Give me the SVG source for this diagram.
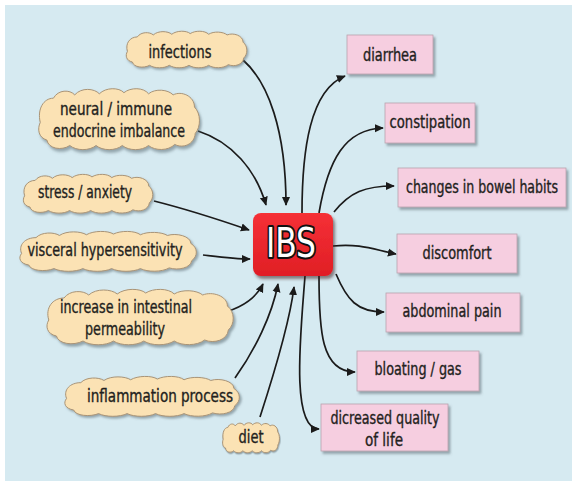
<svg xmlns="http://www.w3.org/2000/svg" xmlns:xlink="http://www.w3.org/1999/xlink" width="572" height="483" viewBox="0 0 572 483">
<style>
.t{font-family:"Liberation Sans Narrow","DejaVu Sans Condensed","Liberation Sans",Arial,sans-serif;font-size:17px;fill:#231f20;stroke:#231f20;stroke-width:0.35;text-anchor:middle}
.cloud{fill:#fbe2b4;stroke:#a99477;stroke-width:1}
.box{fill:#f6cee0;stroke:#b9a3ae;stroke-width:0.8}
.c{fill:none;stroke:#1b1b1b;stroke-width:1.7}
.a{marker-end:url(#ah)}
</style>
<defs>
<marker id="ah" viewBox="0 0 10 10" refX="9" refY="5" markerWidth="9" markerHeight="9" markerUnits="userSpaceOnUse" orient="auto">
<path d="M0,0.5 L10,5 L0,9.5 Z" fill="#1b1b1b"/>
</marker>
<filter id="sh" x="-10%" y="-10%" width="130%" height="140%">
<feDropShadow dx="2" dy="2.5" stdDeviation="1.3" flood-color="#5a6a70" flood-opacity="0.55"/>
</filter>
<filter id="sh2" x="-10%" y="-10%" width="130%" height="140%">
<feDropShadow dx="2" dy="3" stdDeviation="1.5" flood-color="#3a2020" flood-opacity="0.55"/>
</filter>
<linearGradient id="red" x1="0" y1="0" x2="0" y2="1">
<stop offset="0" stop-color="#f53036"/>
<stop offset="1" stop-color="#e01e25"/>
</linearGradient>
<path id="cl" d="M4,34 C0,22 8,12 20,12 C26,4 40,4 46,9 C54,2 70,3 76,8 C84,2 100,2 106,7 C114,2 130,2 136,8 C144,3 160,4 166,9 C176,5 192,10 192,20 C200,26 200,38 193,44 C192,54 178,58 168,54 C160,60 144,60 136,55 C128,60 112,60 104,55 C96,60 80,60 72,55 C64,60 48,60 40,55 C30,60 14,58 12,50 C2,48 0,40 4,34 Z" vector-effect="non-scaling-stroke"/>
</defs>
<rect x="0" y="0" width="572" height="483" fill="#ffffff"/>
<rect x="5" y="5" width="567" height="476" fill="#d6eaf1"/>

<g id="connectors">
<path class="c a" d="M243,60 C268,82 286,130 286,205"/>
<path class="c a" d="M198,131 C232,142 256,170 266,205"/>
<path class="c a" d="M154,201 C190,210 220,220 249,230"/>
<path class="c a" d="M203,255 C220,257 235,259 250,259"/>
<path class="c a" d="M213,315 C240,310 255,300 263,284"/>
<path class="c a" d="M235,378 C255,350 272,315 278,284"/>
<path class="c a" d="M260,417 C272,380 290,320 294,287"/>
<path class="c a" d="M302,213 C302,150 310,90 345,76"/>
<path class="c a" d="M319,213 C328,160 345,129 383,128"/>
<path class="c a" d="M334,212 C350,192 365,186 394,186"/>
<path class="c a" d="M333,246 C360,243 375,250 396,254"/>
<path class="c a" d="M336,274 C347,300 357,312 384,312"/>
<path class="c a" d="M319,276 C319,330 321,372 355,372"/>
<path class="c a" d="M305,276 C301,330 290,429 319,429"/>
</g>

<g id="ibs">
<rect x="253" y="213" width="80" height="63" rx="8" fill="url(#red)" filter="url(#sh2)"/>
<text x="291" y="257" font-family="&quot;Liberation Sans Narrow&quot;,&quot;DejaVu Sans Condensed&quot;,&quot;Liberation Sans&quot;,sans-serif" font-size="41" text-anchor="middle" fill="#ffffff" stroke="#111111" stroke-width="4" paint-order="stroke" stroke-linejoin="round" textLength="50" lengthAdjust="spacingAndGlyphs">IBS</text>
</g>

<g id="infections">
<use xlink:href="#cl" class="cloud" filter="url(#sh)" transform="translate(125,29) scale(0.615,0.66)"/>
<text class="t" x="180" y="58" textLength="63" lengthAdjust="spacingAndGlyphs">infections</text>
</g>
<g id="neural">
<use xlink:href="#cl" class="cloud" filter="url(#sh)" transform="translate(37,85) scale(0.82,1.1)"/>
<text class="t" x="116" y="115" textLength="112" lengthAdjust="spacingAndGlyphs">neural / immune</text>
<text class="t" x="119" y="137" textLength="132" lengthAdjust="spacingAndGlyphs">endocrine imbalance</text>
</g>
<g id="stress">
<use xlink:href="#cl" class="cloud" filter="url(#sh)" transform="translate(22,172) scale(0.66,0.7)"/>
<text class="t" x="85" y="198" textLength="94" lengthAdjust="spacingAndGlyphs">stress / anxiety</text>
</g>
<g id="visceral">
<use xlink:href="#cl" class="cloud" filter="url(#sh)" transform="translate(18,229) scale(0.9,0.72)"/>
<text class="t" x="105" y="256" textLength="155" lengthAdjust="spacingAndGlyphs">visceral hypersensitivity</text>
</g>
<g id="permeability">
<use xlink:href="#cl" class="cloud" filter="url(#sh)" transform="translate(45,286) scale(0.95,1.0)"/>
<text class="t" x="126" y="313" textLength="132" lengthAdjust="spacingAndGlyphs">increase in intestinal</text>
<text class="t" x="125" y="335" textLength="80" lengthAdjust="spacingAndGlyphs">permeability</text>
</g>
<g id="inflammation">
<use xlink:href="#cl" class="cloud" filter="url(#sh)" transform="translate(63,374) scale(0.89,0.72)"/>
<text class="t" x="160" y="402" textLength="146" lengthAdjust="spacingAndGlyphs">inflammation process</text>
</g>
<g id="diet">
<use xlink:href="#cl" class="cloud" filter="url(#sh)" transform="translate(222,421) scale(0.29,0.54)"/>
<text class="t" x="251" y="443" textLength="25" lengthAdjust="spacingAndGlyphs">diet</text>
</g>

<g id="diarrhea">
<rect class="box" x="347" y="35" width="86" height="39" filter="url(#sh)"/>
<text class="t" x="390" y="61" textLength="54" lengthAdjust="spacingAndGlyphs">diarrhea</text>
</g>
<g id="constipation">
<rect class="box" x="385" y="103" width="90" height="40" filter="url(#sh)"/>
<text class="t" x="430" y="128" textLength="81" lengthAdjust="spacingAndGlyphs">constipation</text>
</g>
<g id="bowel">
<rect class="box" x="398" y="168" width="168" height="39" filter="url(#sh)"/>
<text class="t" x="482" y="193" textLength="152" lengthAdjust="spacingAndGlyphs">changes in bowel habits</text>
</g>
<g id="discomfort">
<rect class="box" x="397" y="234" width="120" height="39" filter="url(#sh)"/>
<text class="t" x="457" y="259" textLength="69" lengthAdjust="spacingAndGlyphs">discomfort</text>
</g>
<g id="abdominal">
<rect class="box" x="386" y="293" width="134" height="39" filter="url(#sh)"/>
<text class="t" x="452" y="317" textLength="99" lengthAdjust="spacingAndGlyphs">abdominal pain</text>
</g>
<g id="bloating">
<rect class="box" x="357" y="351" width="122" height="40" filter="url(#sh)"/>
<text class="t" x="418" y="375" textLength="87" lengthAdjust="spacingAndGlyphs">bloating / gas</text>
</g>
<g id="quality">
<rect class="box" x="321" y="404" width="127" height="47" filter="url(#sh)"/>
<text class="t" x="385" y="424" textLength="109" lengthAdjust="spacingAndGlyphs">dicreased quality</text>
<text class="t" x="384" y="446" textLength="38" lengthAdjust="spacingAndGlyphs">of life</text>
</g>
</svg>
